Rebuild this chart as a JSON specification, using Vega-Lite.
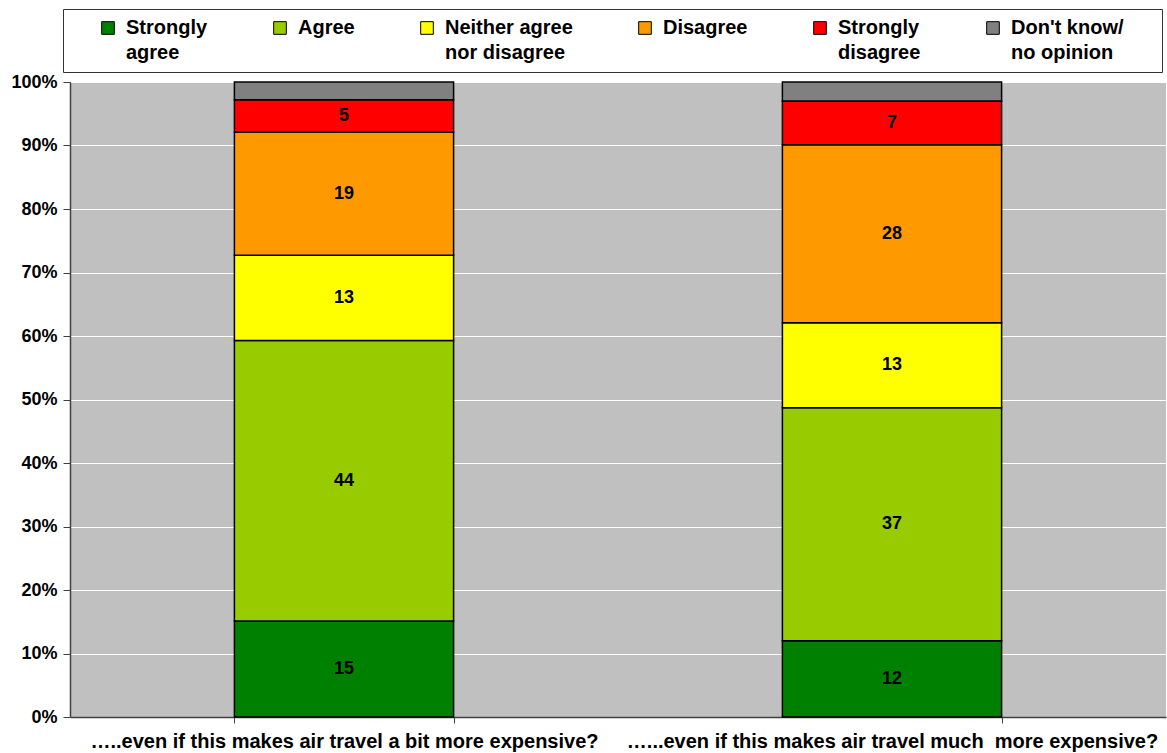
{
  "$schema": "https://vega.github.io/schema/vega-lite/v6.json",
  "width": 1096,
  "height": 635,
  "autosize": "none",
  "padding": {"left": 70, "top": 82, "right": 1, "bottom": 36},
  "background": "white",
  "config": {
    "view": {"fill": "#C0C0C0", "stroke": null},
    "font": "Liberation Sans",
    "style": {"guide-label": {"lineHeight": 25}}
  },
  "data": {
    "values": [
      {"question": "…..even if this makes air travel a bit more expensive?", "response": "Strongly agree", "value": 15.1, "order": 1},
      {"question": "…..even if this makes air travel a bit more expensive?", "response": "Agree", "value": 44.2, "order": 2},
      {"question": "…..even if this makes air travel a bit more expensive?", "response": "Neither agree nor disagree", "value": 13.4, "order": 3},
      {"question": "…..even if this makes air travel a bit more expensive?", "response": "Disagree", "value": 19.4, "order": 4},
      {"question": "…..even if this makes air travel a bit more expensive?", "response": "Strongly disagree", "value": 5.1, "order": 5},
      {"question": "…..even if this makes air travel a bit more expensive?", "response": "Don't know/ no opinion", "value": 2.8, "order": 6},
      {"question": "…...even if this makes air travel much\u00a0 more expensive?", "response": "Strongly agree", "value": 12.0, "order": 1},
      {"question": "…...even if this makes air travel much\u00a0 more expensive?", "response": "Agree", "value": 36.7, "order": 2},
      {"question": "…...even if this makes air travel much\u00a0 more expensive?", "response": "Neither agree nor disagree", "value": 13.4, "order": 3},
      {"question": "…...even if this makes air travel much\u00a0 more expensive?", "response": "Disagree", "value": 28.0, "order": 4},
      {"question": "…...even if this makes air travel much\u00a0 more expensive?", "response": "Strongly disagree", "value": 6.9, "order": 5},
      {"question": "…...even if this makes air travel much\u00a0 more expensive?", "response": "Don't know/ no opinion", "value": 3.0, "order": 6}
    ]
  },
  "transform": [
    {"stack": "value", "groupby": ["question"], "sort": [{"field": "order", "order": "ascending"}], "offset": "normalize", "as": ["y0", "y1"]},
    {"calculate": "(datum.y0 + datum.y1) / 2", "as": "ymid"}
  ],
  "encoding": {
    "x": {
      "field": "question",
      "type": "nominal",
      "sort": null,
      "scale": {"paddingInner": 0.6, "paddingOuter": 0.3},
      "axis": {
        "title": null,
        "labelAngle": 0,
        "labelFont": "Liberation Sans",
        "labelFontWeight": "bold",
        "labelFontSize": 20,
        "labelColor": "black",
        "labelPadding": 8,
        "labelLimit": 1000,
        "tickBand": "extent",
        "tickSize": 6,
        "tickColor": "#404040",
        "domainColor": "#404040",
        "domainWidth": 1.5,
        "grid": false
      }
    }
  },
  "layer": [
    {
      "mark": {"type": "bar", "stroke": "black", "strokeWidth": 1.5},
      "encoding": {
        "y": {
          "field": "y0",
          "type": "quantitative",
          "scale": {"domain": [0, 1], "nice": false},
          "axis": {
            "title": null,
            "format": "%",
            "values": [0, 0.1, 0.2, 0.3, 0.4, 0.5, 0.6, 0.7, 0.8, 0.9, 1],
            "labelFont": "Liberation Sans",
            "labelFontWeight": "bold",
            "labelFontSize": 18,
            "labelColor": "black",
            "labelPadding": 6,
            "tickSize": 7,
            "tickColor": "#404040",
            "domainColor": "#404040",
            "domainWidth": 1.5,
            "grid": true,
            "gridColor": "white",
            "gridWidth": 1,
            "gridOpacity": 1
          }
        },
        "y2": {"field": "y1"},
        "color": {
          "field": "response",
          "type": "nominal",
          "scale": {
            "domain": ["Strongly agree", "Agree", "Neither agree nor disagree", "Disagree", "Strongly disagree", "Don't know/ no opinion"],
            "range": ["#008000", "#99CC00", "#FFFF00", "#FF9900", "#FF0000", "#808080"]
          },
          "legend": {
            "title": "\u00a0",
            "titleOrient": "left",
            "titleFontSize": 20,
            "titlePadding": 26,
            "orient": "none",
            "legendX": -7,
            "legendY": -73,
            "direction": "horizontal",
            "columns": 6,
            "gridAlign": "each",
            "columnPadding": 62,
            "symbolType": "square",
            "symbolSize": 160,
            "symbolStrokeColor": "black",
            "symbolStrokeWidth": 1,
            "symbolOffset": 0,
            "labelOffset": 8,
            "labelFont": "Liberation Sans",
            "labelFontWeight": "bold",
            "labelFontSize": 20,
            "labelColor": "black",
            "labelLimit": 400,
            "labelExpr": "datum.label == 'Strongly agree' ? ['Strongly', 'agree'] : datum.label == 'Agree' ? ['Agree', '\u00a0'] : datum.label == 'Neither agree nor disagree' ? ['Neither agree', 'nor disagree'] : datum.label == 'Disagree' ? ['Disagree', '\u00a0'] : datum.label == 'Strongly disagree' ? ['Strongly', 'disagree'] : datum.label == \"Don't know/ no opinion\" ? [\"Don't know/\", 'no opinion\u00a0\u00a0\u00a0\u00a0\u00a0\u00a0\u00a0\u200b'] : datum.label",
            "strokeColor": "#333333",
            "fillColor": "white",
            "padding": 9
          }
        }
      }
    },
    {
      "transform": [{"filter": "datum.order < 6"}],
      "mark": {"type": "text", "font": "Liberation Sans", "fontWeight": "bold", "fontSize": 18, "color": "black", "baseline": "middle", "align": "center"},
      "encoding": {
        "y": {"field": "ymid", "type": "quantitative"},
        "text": {"field": "value", "type": "quantitative", "format": ".0f"}
      }
    }
  ]
}
